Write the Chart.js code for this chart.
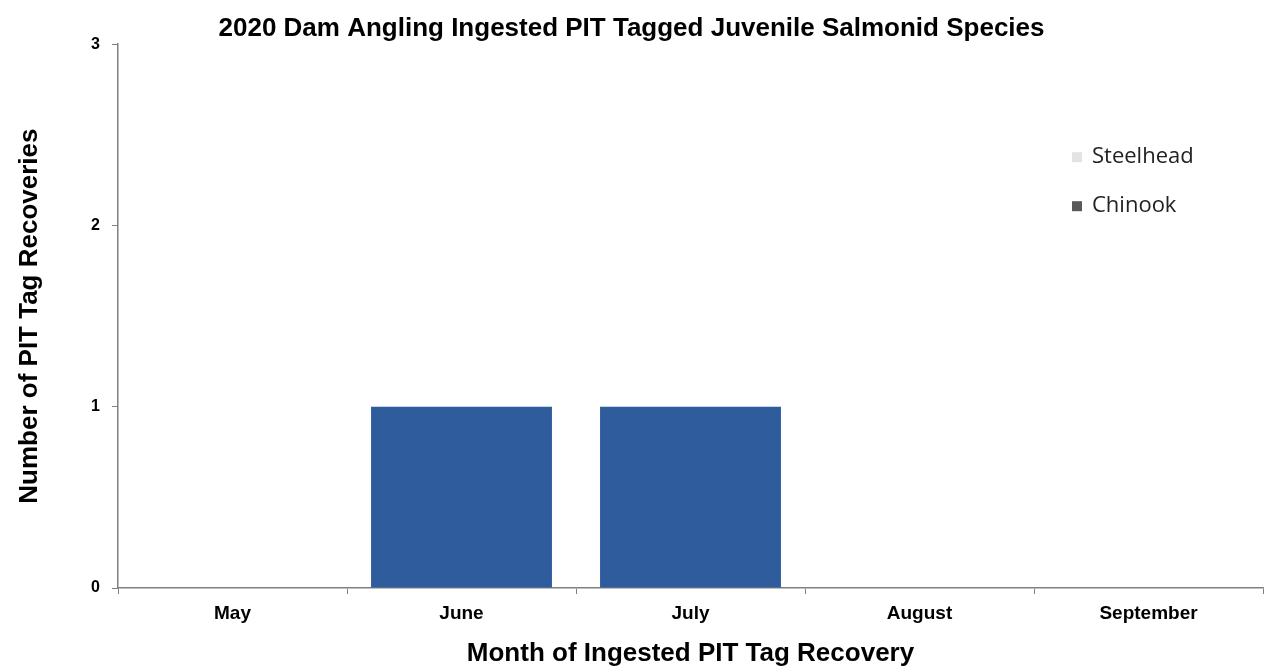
<!DOCTYPE html>
<html>
<head>
<meta charset="utf-8">
<script src="https://cdn.jsdelivr.net/npm/chart.js@4"></script>
<style>
  body { margin: 0; background: #fff; }
  #wrap { width: 1265px; height: 671px; }
</style>
</head>
<body>
<div id="wrap"><canvas id="damChart" width="1265" height="671"></canvas></div>
<script>
const months = ['May', 'June', 'July', 'August', 'September'];
const steelhead = [0, 0, 0, 0, 0];
const chinook = [0, 1, 1, 0, 0];
const yTicks = [0, 1, 2, 3];
const seriesNames = ['Steelhead', 'Chinook'];
const legendColors = ['#e3e3e3', '#595959'];

const font = "'Liberation Sans', Arial, sans-serif";

// legend drawn inside the plot, upper right like the original
const insideLegend = {
    id: 'insideLegend',
    afterDraw(chart) {
        const ctx = chart.ctx;
        const x = chart.chartArea.left + 954;
        let y = chart.chartArea.top + 113;
        ctx.save();
        ctx.font = "22px 'Open Sans', 'Liberation Sans', sans-serif";
        ctx.textBaseline = 'middle';
        for (let i = 0; i < seriesNames.length; i++) {
            ctx.fillStyle = legendColors[i];
            ctx.fillRect(x, y - 5, 10, 10);
            ctx.fillStyle = '#222';
            ctx.fillText(seriesNames[i], x + 20, y);
            y += 49;
        }
        ctx.restore();
    }
};

var ctx = document.getElementById('damChart').getContext('2d');
var chart = new Chart(ctx, {
    type: 'bar',
    data: {
        labels: months,
        datasets: [{
            label: seriesNames[0],
            data: steelhead,
            backgroundColor: '#d9d9d9'
        }, {
            label: seriesNames[1],
            data: chinook,
            backgroundColor: '#2e5c9c'
        }]
    },
    options: {
        responsive: false,
        animation: false,
        barPercentage: 0.79,
        categoryPercentage: 1.0,
        layout: { padding: { left: 0, right: 2, top: 0, bottom: 0 } },
        plugins: {
            legend: { display: false },
            tooltip: { enabled: false },
            title: {
                display: true,
                text: '2020 Dam Angling Ingested PIT Tagged Juvenile Salmonid Species',
                color: '#000',
                font: { family: font, size: 26, weight: 'bold' },
                padding: { top: 13, bottom: 0 }
            }
        },
        scales: {
            x: {
                stacked: true,
                afterFit: function(scale) { scale.height = 83; },
                grid: { drawOnChartArea: false, color: '#808080', tickLength: 6 },
                border: { color: '#808080', width: 1.5 },
                ticks: { color: '#000', font: { family: font, size: 19, weight: 'bold' }, padding: 8 },
                title: {
                    display: true,
                    text: 'Month of Ingested PIT Tag Recovery',
                    color: '#000',
                    font: { family: font, size: 26, weight: 'bold' },
                    padding: { top: 0, bottom: 2 }
                }
            },
            y: {
                stacked: true,
                min: 0,
                max: 3,
                afterFit: function(scale) { scale.width = 118; },
                afterBuildTicks: function(scale) {
                    scale.ticks = yTicks.map(v => ({ value: v }));
                },
                grid: { drawOnChartArea: false, color: '#808080', tickLength: 6 },
                border: { color: '#808080', width: 1.5 },
                ticks: { color: '#000', font: { family: font, size: 16, weight: 'bold' }, padding: 12 },
                title: {
                    display: true,
                    text: 'Number of PIT Tag Recoveries',
                    color: '#000',
                    font: { family: font, size: 26, weight: 'bold' },
                    padding: { top: 14, bottom: 0 }
                }
            }
        }
    },
    plugins: [insideLegend]
});
</script>
</body>
</html>
